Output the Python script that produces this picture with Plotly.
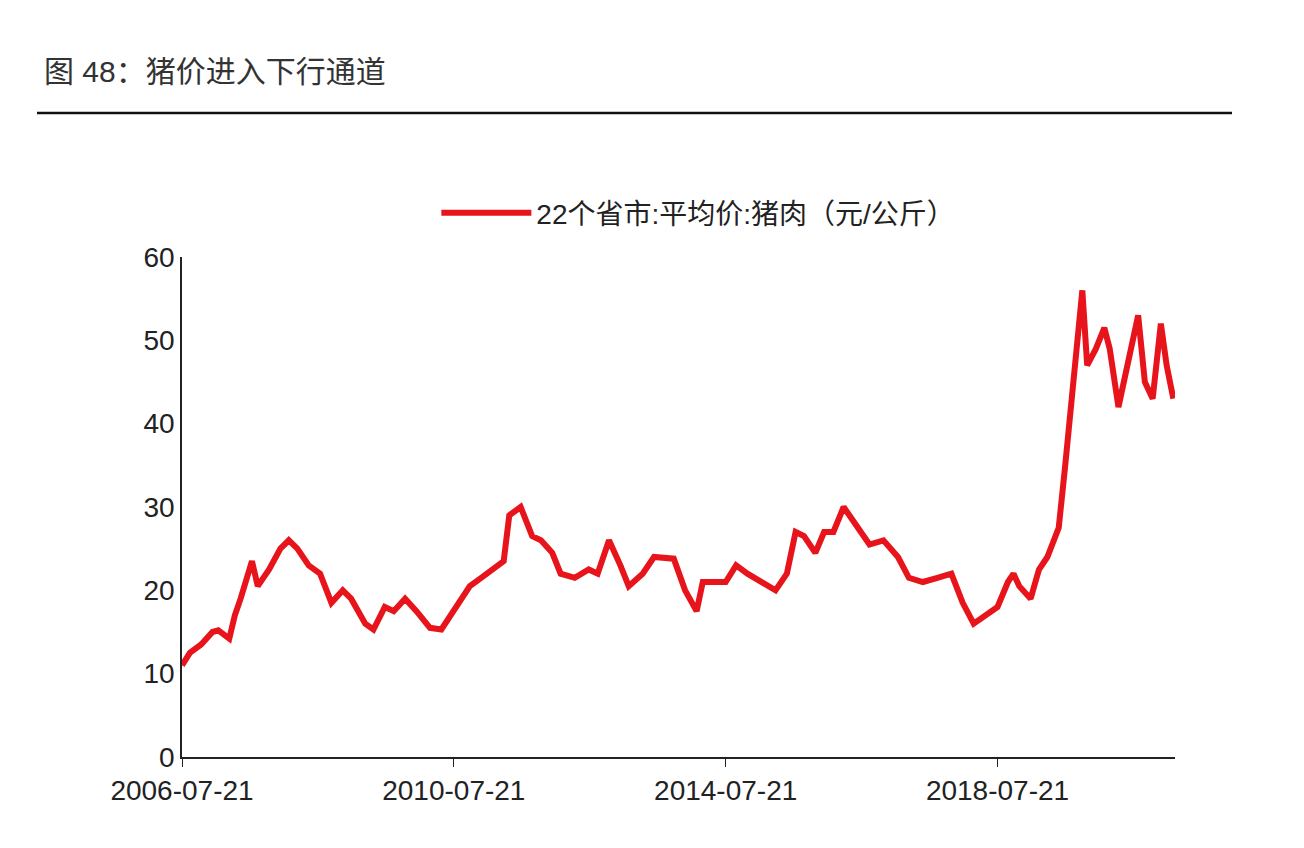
import plotly.graph_objects as go

dates = ["2006-07-21","2006-09-01","2006-11-01","2007-01-01","2007-02-01","2007-04-01","2007-05-01","2007-06-01","2007-08-01","2007-09-01","2007-11-01","2008-01-01","2008-02-15","2008-04-01","2008-06-01","2008-08-01","2008-10-01","2008-12-01","2009-01-15","2009-04-01","2009-05-15","2009-07-15","2009-09-01","2009-11-01","2010-01-01","2010-03-15","2010-05-15","2010-07-21","2010-09-15","2010-10-15","2010-12-15","2011-02-15","2011-04-15","2011-05-15","2011-07-15","2011-09-15","2011-11-01","2012-01-01","2012-02-15","2012-05-01","2012-07-15","2012-09-01","2012-11-01","2013-01-01","2013-02-15","2013-05-01","2013-07-01","2013-10-15","2013-12-15","2014-02-15","2014-03-20","2014-07-21","2014-09-15","2014-11-15","2015-03-01","2015-04-15","2015-06-15","2015-08-01","2015-09-15","2015-11-15","2016-01-01","2016-02-20","2016-04-15","2016-06-15","2016-09-01","2016-11-15","2017-02-01","2017-04-01","2017-06-15","2017-09-01","2017-11-15","2018-01-15","2018-03-15","2018-07-21","2018-09-15","2018-10-15","2018-11-15","2019-01-15","2019-03-01","2019-04-15","2019-06-15","2019-07-20","2019-09-01","2019-10-20","2019-11-15","2020-01-01","2020-02-15","2020-03-15","2020-05-01","2020-06-15","2020-08-15","2020-09-20","2020-11-01","2020-12-15","2021-01-15","2021-02-20"]
prices = [11,12.5,13.5,15,15.2,14.2,17,19,23.5,20.5,22.5,25,26,25,23,22,18.5,20,19,16,15.3,18,17.5,19,17.5,15.5,15.3,17.5,19.5,20.5,21.5,22.5,23.5,29,30,26.5,26,24.5,22,21.5,22.5,22,26,23,20.5,22,24,23.8,20,17.5,21,21,23,22,20.5,20,22,27,26.5,24.5,27,27,30,28,25.5,26,24,21.5,21,21.5,22,18.5,16,18,21,22,20.5,19,22.5,24,27.5,35,45,56,47,49,51.5,49,42,47,53,45,43,52,47,43]
tickvals = ["2006-07-21","2010-07-21","2014-07-21","2018-07-21"]

fig = go.Figure(go.Scatter(x=dates, y=prices, mode="lines", name="22个省市:平均价:猪肉（元/公斤）",
                           line=dict(color="#e8141b", width=6)))
font = "Liberation Sans, Noto Sans CJK SC"
fig.update_layout(
    width=1304, height=848, paper_bgcolor="white", plot_bgcolor="white",
    margin=dict(l=174, r=137, t=249, b=99),
    font=dict(family=font, size=28, color="#222"),
    showlegend=True,
    legend=dict(orientation="h", x=0.52, xanchor="center", y=1.088, yanchor="middle",
                font=dict(size=28, family=font), itemwidth=90),
    xaxis=dict(type="date", range=["2006-07-21","2021-03-01"], tickvals=tickvals, ticktext=tickvals,
               showgrid=False, showline=True, linecolor="#222", linewidth=1.5, ticks="outside", ticklen=8,
               tickcolor="#222"),
    yaxis=dict(range=[0,60], dtick=10, showgrid=False, showline=True, linecolor="#222", linewidth=1.5,
               ticks="", zeroline=False),
    shapes=[dict(type="line", xref="paper", yref="paper", x0=-145/993, x1=1050/993, y0=1+144/500, y1=1+144/500,
                 line=dict(color="#111", width=2.5))],
)
fig.layout.annotations = [dict(text="图 48：猪价进入下行通道", x=-140/993, y=1+185/500, xref="paper", yref="paper",
                               xanchor="left", yanchor="middle", showarrow=False, font=dict(size=30, color="#333"))]
fig.write_html("out.html")
